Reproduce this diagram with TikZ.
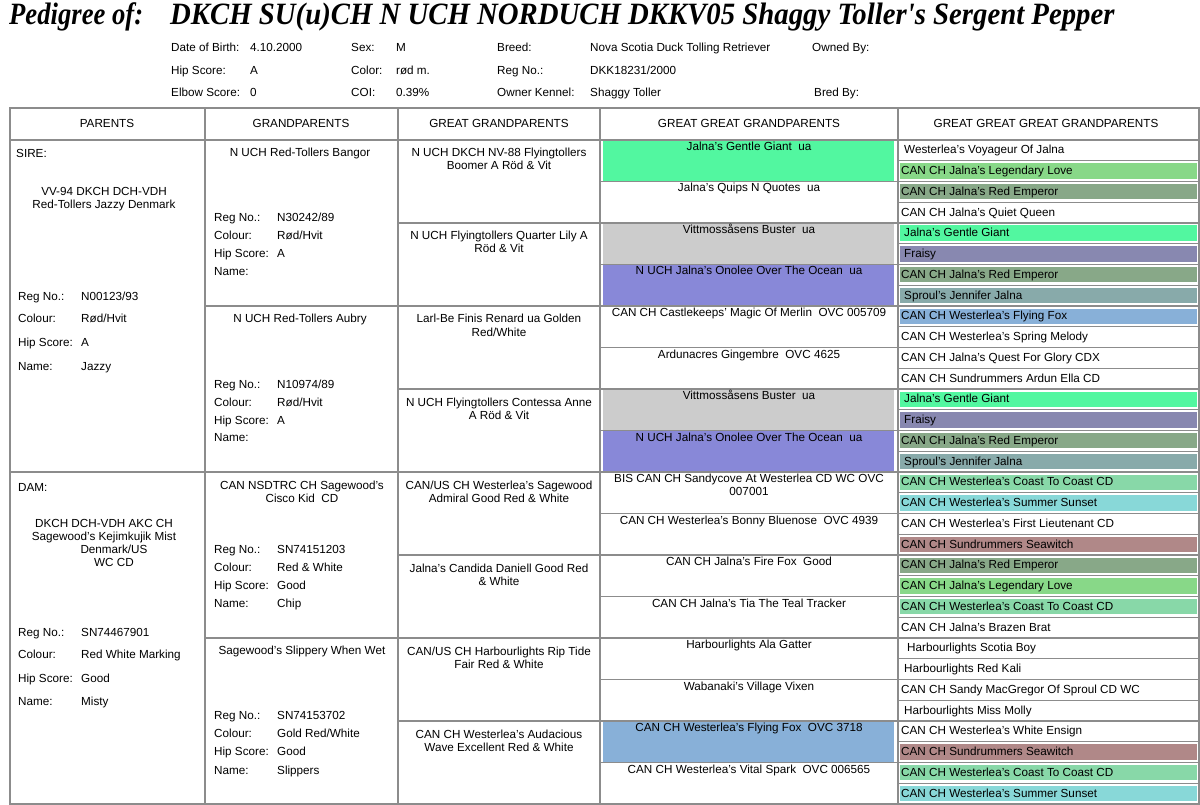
\documentclass[tikz,border=0pt]{standalone}
\usepackage{graphicx}
\usepackage{fontspec}
\setmainfont{Liberation Sans}
\newfontfamily\titlefont{Liberation Serif}
\newcommand\tf{\fontsize{11.7}{13}\selectfont}
\definecolor{gridc}{HTML}{8C8C8C}
\definecolor{cGentle}{HTML}{52F7A0}
\definecolor{cLegend}{HTML}{88D888}
\definecolor{cEmperor}{HTML}{88A888}
\definecolor{cFraisy}{HTML}{8888B0}
\definecolor{cSproul}{HTML}{88AAAA}
\definecolor{cFlyFox}{HTML}{88B0D8}
\definecolor{cCoast}{HTML}{88D8A8}
\definecolor{cSunset}{HTML}{88D8D8}
\definecolor{cSeawitch}{HTML}{B08888}
\definecolor{cBuster}{HTML}{CCCCCC}
\definecolor{cOnolee}{HTML}{8888D8}
\begin{document}
\begin{tikzpicture}[x=1pt,y=-1pt,
  every node/.style={inner sep=0pt,font=\tf},
  grid/.style={draw=gridc,line width=1.1pt},
  lab/.style={anchor=base west},
  ctr/.style={anchor=base},
  ttlfont/.style={font={\titlefont\bfseries\itshape\fontsize{31}{31}\selectfont}}]
\useasboundingbox[fill=white] (0,0) rectangle (1200,805);

% ---- title ----
\node[lab,ttlfont] (ttl) at (9,25) {\scalebox{0.86}[1]{Pedigree of:}};
\node[lab,ttlfont] (ttlname) at (170,25) {\scalebox{0.928}[1]{DKCH SU(u)CH N UCH NORDUCH DKKV05 Shaggy Toller's Sergent Pepper}};

% ---- info ----
\node[lab] (dobL) at (171,52) {Date of Birth:};
\node[lab] (dobV) at (250,52) {4.10.2000};
\node[lab] (sexL) at (351,52) {Sex:};
\node[lab] (sexV) at (396,52) {M};
\node[lab] (breedL) at (497,52) {Breed:};
\node[lab] (breedV) at (590,52) {Nova Scotia Duck Tolling Retriever};
\node[lab] (ownedL) at (812,52) {Owned By:};
\node[lab] (hipL) at (171,75) {Hip Score:};
\node[lab] (hipV) at (250,75) {A};
\node[lab] (colL) at (351,75) {Color:};
\node[lab] (colV) at (396,75) {rød m.};
\node[lab] (regL) at (497,75) {Reg No.:};
\node[lab] (regV) at (590,75) {DKK18231/2000};
\node[lab] (elbL) at (171,97) {Elbow Score:};
\node[lab] (elbV) at (250,97) {0};
\node[lab] (coiL) at (351,97) {COI:};
\node[lab] (coiV) at (396,97) {0.39\%};
\node[lab] (kenL) at (497,97) {Owner Kennel:};
\node[lab] (kenV) at (590,97) {Shaggy Toller};
\node[lab] (bredL) at (814,97) {Bred By:};

% ---- GGGP fills ----
\foreach \c [count=\i from 0] in {cGentle,none,cBuster,cOnolee,none,none,cBuster,cOnolee,none,none,none,none,none,none,cFlyFox,none}{
  \pgfmathsetmacro\tp{140+41.5*\i}
  \path[fill=\c] (603,\tp+0.6) rectangle (894,\tp+41);
}
% ---- GGGGP bars ----
\foreach \c [count=\i from 0] in {none,cLegend,cEmperor,none,cGentle,cFraisy,cEmperor,cSproul,cFlyFox,none,none,none,cGentle,cFraisy,cEmperor,cSproul,cCoast,cSunset,none,cSeawitch,cEmperor,cLegend,cCoast,none,none,none,none,none,none,cSeawitch,cCoast,cSunset}{
  \pgfmathsetmacro\tp{140+20.75*\i}
  \path[fill=\c] (900,\tp+2.5) rectangle (1197,\tp+17.8);
}

% ---- grid ----
\foreach \k in {1,3,...,31}{\draw[grid] (898,140+20.75*\k) -- (1199,140+20.75*\k);}
\foreach \k in {1,3,...,15}{\draw[grid] (600,140+41.5*\k) -- (1199,140+41.5*\k);}
\foreach \k in {1,3,5,7}{\draw[grid] (398,140+83*\k) -- (1199,140+83*\k);}
\foreach \k in {1,3}{\draw[grid] (205,140+166*\k) -- (1199,140+166*\k);}
\draw[grid] (10,472) -- (1199,472);
\draw[grid] (10,140) -- (1199,140);
\foreach \x in {205,398,600,898}{\draw[grid] (\x,108) -- (\x,804);}
\draw[grid] (10,108) rectangle (1199,804);

% ---- header row ----
\node[ctr] (hP) at (107,128) {PARENTS};
\node[ctr] (hG) at (301,128) {GRANDPARENTS};
\node[ctr] (hGG) at (499,128) {GREAT GRANDPARENTS};
\node[ctr] (hGGG) at (749,128) {GREAT GREAT GRANDPARENTS};
\node[ctr] (hGGGG) at (1046,128) {GREAT GREAT GREAT GRANDPARENTS};

% ---- sire ----
\node[lab] (sire) at (16,158) {SIRE:};
\node[ctr] (sireA) at (104,196) {VV-94 DKCH DCH-VDH};
\node[ctr] (sireB) at (104,209) {Red-Tollers Jazzy Denmark};
\node[lab] (sRegL) at (18,300) {Reg No.:};
\node[lab] (sRegV) at (81,300) {N00123/93};
\node[lab] (sColL) at (18,323) {Colour:};
\node[lab] (sColV) at (81,323) {Rød/Hvit};
\node[lab] (sHipL) at (18,346) {Hip Score:};
\node[lab] (sHipV) at (81,346) {A};
\node[lab] (sNamL) at (18,370) {Name:};
\node[lab] (sNamV) at (81,370) {Jazzy};

% ---- dam ----
\node[lab] (dam) at (18,491) {DAM:};
\node[ctr] (damA) at (104,527) {DKCH DCH-VDH AKC CH};
\node[ctr] (damB) at (104,540) {Sagewood's Kejimkujik Mist};
\node[ctr] (damC) at (114,553) {Denmark/US};
\node[ctr] (damD) at (114,566) {WC CD};
\node[lab] (dRegL) at (18,636) {Reg No.:};
\node[lab] (dRegV) at (81,636) {SN74467901};
\node[lab] (dColL) at (18,658) {Colour:};
\node[lab] (dColV) at (81,658) {Red White Marking};
\node[lab] (dHipL) at (18,682) {Hip Score:};
\node[lab] (dHipV) at (81,682) {Good};
\node[lab] (dNamL) at (18,705) {Name:};
\node[lab] (dNamV) at (81,705) {Misty};

% ---- grandparents ----
\node[ctr] (gp1) at (300,157) {N UCH Red-Tollers Bangor};
\node[lab] (gp1RegL) at (214,222) {Reg No.:};
\node[lab] (gp1RegV) at (277,222) {N30242/89};
\node[lab] (gp1ColL) at (214,240) {Colour:};
\node[lab] (gp1ColV) at (277,240) {Rød/Hvit};
\node[lab] (gp1HipL) at (214,258) {Hip Score:};
\node[lab] (gp1HipV) at (277,258) {A};
\node[lab] (gp1NamL) at (214,276) {Name:};

\node[ctr] (gp2) at (300,323) {N UCH Red-Tollers Aubry};
\node[lab] (gp2RegL) at (214,388) {Reg No.:};
\node[lab] (gp2RegV) at (277,388) {N10974/89};
\node[lab] (gp2ColL) at (214,406) {Colour:};
\node[lab] (gp2ColV) at (277,406) {Rød/Hvit};
\node[lab] (gp2HipL) at (214,424) {Hip Score:};
\node[lab] (gp2HipV) at (277,424) {A};
\node[lab] (gp2NamL) at (214,441) {Name:};

\node[ctr] (gp3a) at (302,489) {CAN NSDTRC CH Sagewood's};
\node[ctr] (gp3b) at (302,502) {Cisco Kid\ \ CD};
\node[lab] (gp3RegL) at (214,553) {Reg No.:};
\node[lab] (gp3RegV) at (277,553) {SN74151203};
\node[lab] (gp3ColL) at (214,571) {Colour:};
\node[lab] (gp3ColV) at (277,571) {Red \& White};
\node[lab] (gp3HipL) at (214,589) {Hip Score:};
\node[lab] (gp3HipV) at (277,589) {Good};
\node[lab] (gp3NamL) at (214,607) {Name:};
\node[lab] (gp3NamV) at (277,607) {Chip};

\node[ctr] (gp4) at (302,654) {Sagewood's Slippery When Wet};
\node[lab] (gp4RegL) at (214,719) {Reg No.:};
\node[lab] (gp4RegV) at (277,719) {SN74153702};
\node[lab] (gp4ColL) at (214,737) {Colour:};
\node[lab] (gp4ColV) at (277,737) {Gold Red/White};
\node[lab] (gp4HipL) at (214,755) {Hip Score:};
\node[lab] (gp4HipV) at (277,755) {Good};
\node[lab] (gp4NamL) at (214,774) {Name:};
\node[lab] (gp4NamV) at (277,774) {Slippers};

% ---- great grandparents ----
\node[ctr] (ggp1a) at (499,157) {N UCH DKCH NV-88 Flyingtollers};
\node[ctr] (ggp1b) at (499,170) {Boomer A Röd \& Vit};
\node[ctr] (ggp2a) at (499,240) {N UCH Flyingtollers Quarter Lily A};
\node[ctr] (ggp2b) at (499,253) {Röd \& Vit};
\node[ctr] (ggp3a) at (499,323) {Larl-Be Finis Renard ua Golden};
\node[ctr] (ggp3b) at (499,336) {Red/White};
\node[ctr] (ggp4a) at (499,406) {N UCH Flyingtollers Contessa Anne};
\node[ctr] (ggp4b) at (499,419) {A Röd \& Vit};
\node[ctr] (ggp5a) at (499,489) {CAN/US CH Westerlea's Sagewood};
\node[ctr] (ggp5b) at (499,502) {Admiral Good Red \& White};
\node[ctr] (ggp6a) at (499,572) {Jalna's Candida Daniell Good Red};
\node[ctr] (ggp6b) at (499,585) {\& White};
\node[ctr] (ggp7a) at (499,655) {CAN/US CH Harbourlights Rip Tide};
\node[ctr] (ggp7b) at (499,668) {Fair Red \& White};
\node[ctr] (ggp8a) at (499,738) {CAN CH Westerlea's Audacious};
\node[ctr] (ggp8b) at (499,751) {Wave Excellent Red \& White};

% ---- great great grandparents ----
\foreach \t [count=\i from 0] in {
  {Jalna's Gentle Giant\ \ ua},
  {Jalna's Quips N Quotes\ \ ua},
  {Vittmossåsens Buster\ \ ua},
  {N UCH Jalna's Onolee Over The Ocean\ \ ua},
  {CAN CH Castlekeeps' Magic Of Merlin\ \ OVC 005709},
  {Ardunacres Gingembre\ \ OVC 4625},
  {Vittmossåsens Buster\ \ ua},
  {N UCH Jalna's Onolee Over The Ocean\ \ ua},
  {BIS CAN CH Sandycove At Westerlea CD WC OVC},
  {CAN CH Westerlea's Bonny Bluenose\ \ OVC 4939},
  {CAN CH Jalna's Fire Fox\ \ Good},
  {CAN CH Jalna's Tia The Teal Tracker},
  {Harbourlights Ala Gatter},
  {Wabanaki's Village Vixen},
  {CAN CH Westerlea's Flying Fox\ \ OVC 3718},
  {CAN CH Westerlea's Vital Spark\ \ OVC 006565}}{
  \pgfmathsetmacro\tp{140+41.5*\i}
  \node[ctr] (g4-\i) at (749,\tp+10.5) {\t};
}
\node[ctr] (g4-8b) at (749,495.5) {007001};

% ---- great great great grandparents ----
\foreach \t/\dx [count=\i from 0] in {
  {Westerlea's Voyageur Of Jalna}/904,
  {CAN CH Jalna's Legendary Love}/901,
  {CAN CH Jalna's Red Emperor}/901,
  {CAN CH Jalna's Quiet Queen}/901,
  {Jalna's Gentle Giant}/904,
  {Fraisy}/904,
  {CAN CH Jalna's Red Emperor}/901,
  {Sproul's Jennifer Jalna}/904,
  {CAN CH Westerlea's Flying Fox}/901,
  {CAN CH Westerlea's Spring Melody}/901,
  {CAN CH Jalna's Quest For Glory CDX}/901,
  {CAN CH Sundrummers Ardun Ella CD}/901,
  {Jalna's Gentle Giant}/904,
  {Fraisy}/904,
  {CAN CH Jalna's Red Emperor}/901,
  {Sproul's Jennifer Jalna}/904,
  {CAN CH Westerlea's Coast To Coast CD}/901,
  {CAN CH Westerlea's Summer Sunset}/901,
  {CAN CH Westerlea's First Lieutenant CD}/901,
  {CAN CH Sundrummers Seawitch}/901,
  {CAN CH Jalna's Red Emperor}/901,
  {CAN CH Jalna's Legendary Love}/901,
  {CAN CH Westerlea's Coast To Coast CD}/901,
  {CAN CH Jalna's Brazen Brat}/901,
  {Harbourlights Scotia Boy}/907,
  {Harbourlights Red Kali}/904,
  {CAN CH Sandy MacGregor Of Sproul CD WC}/901,
  {Harbourlights Miss Molly}/904,
  {CAN CH Westerlea's White Ensign}/901,
  {CAN CH Sundrummers Seawitch}/901,
  {CAN CH Westerlea's Coast To Coast CD}/901,
  {CAN CH Westerlea's Summer Sunset}/901}{
  \pgfmathsetmacro\tp{140+20.75*\i}
  \node[lab] (g5-\i) at (\dx,\tp+13.8) {\t};
}
\end{tikzpicture}
\end{document}
